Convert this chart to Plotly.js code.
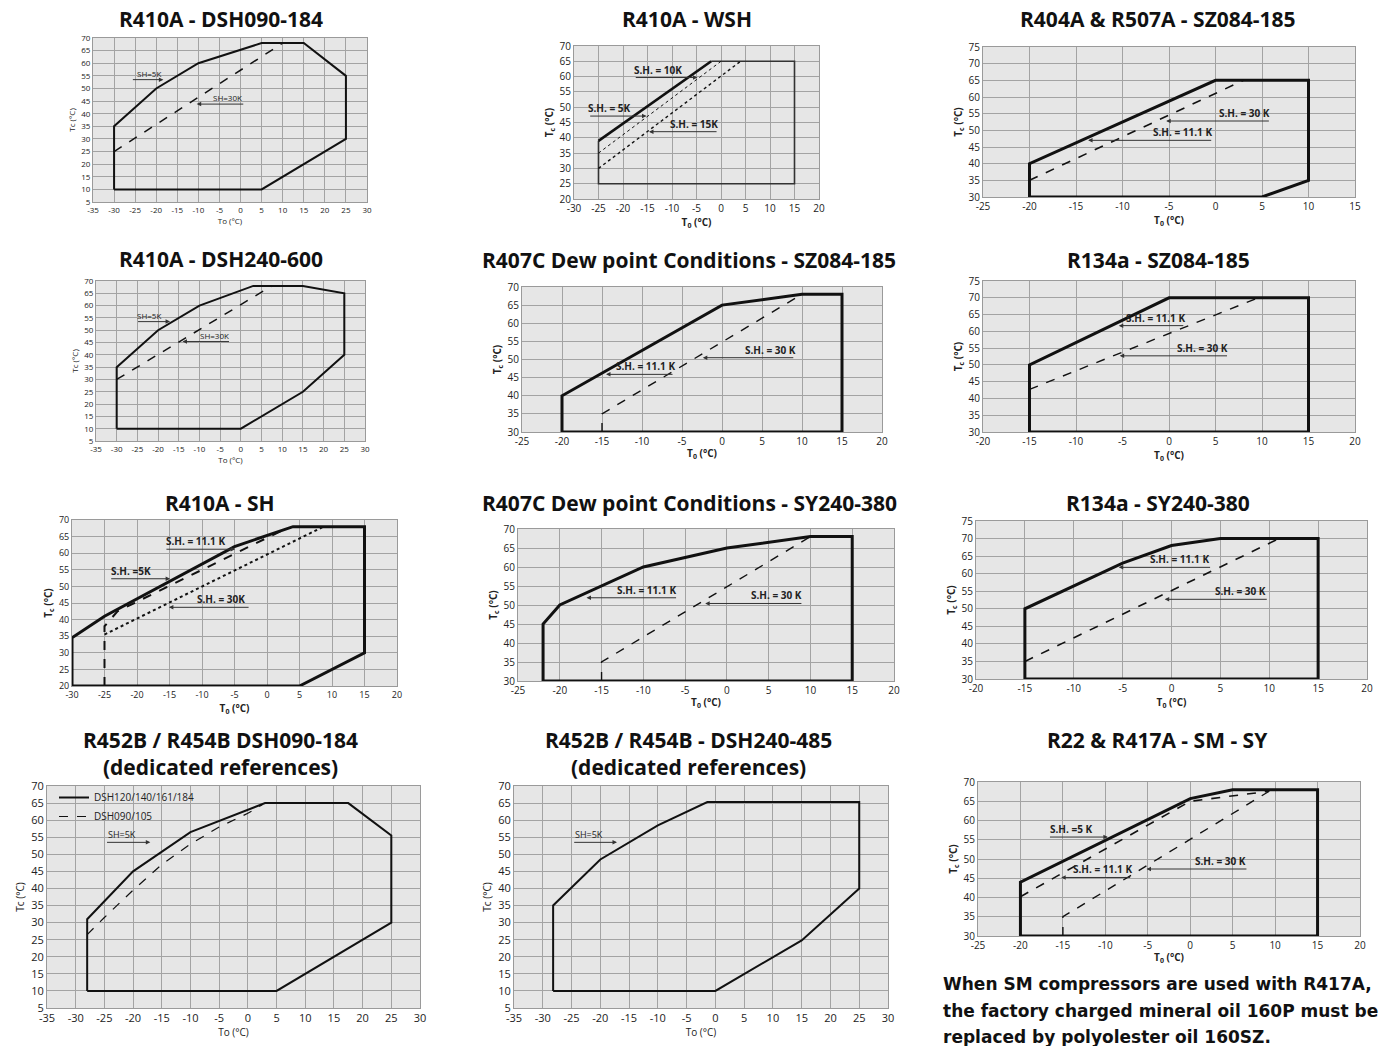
<!DOCTYPE html>
<html><head><meta charset="utf-8">
<script src="https://cdn.plot.ly/plotly-3.0.1.min.js"></script>
<style>html,body{margin:0;padding:0;background:#fff;}#c{width:1388px;height:1046px;}</style>
</head><body><div id="c"></div>
<script>
// ---------- DATA ----------
// Panel 1: R410A - DSH090-184
const p1_env_x = [-30,-30,-20,-10,5,15,25,25,5,-30];
const p1_env_y = [10,35,50,60,68,68,55,30,10,10];
const p1_sh30_x = [-30,10];
const p1_sh30_y = [25,68];
// Panel 2: R410A - WSH
const p2_sh5_x = [-25,-2];
const p2_sh5_y = [39,65];
const p2_env_x = [-2,15,15,-25,-25];
const p2_env_y = [65,65,25,25,39];
const p2_sh10_x = [-25,0];
const p2_sh10_y = [35,65];
const p2_sh15_x = [-25,4];
const p2_sh15_y = [30,65];
// Panel 3: R404A & R507A - SZ084-185
const p3_env_x = [-20,-20,0,10,10,5,-20];
const p3_env_y = [30,40,65,65,35,30,30];
const p3_sh30_x = [-20,3];
const p3_sh30_y = [35,65];
// Panel 4: R410A - DSH240-600
const p4_env_x = [-30,-30,-20,-10,3,15,25,25,15,0,-30];
const p4_env_y = [10,35,50,60,68,68,65,40,25,10,10];
const p4_sh30_x = [-30,7.5];
const p4_sh30_y = [30,68];
// Panel 5: R407C Dew point - SZ084-185
const p5_env_x = [-20,-20,0,10,15,15,-20];
const p5_env_y = [30,40,65,68,68,30,30];
const p5_sh30_x = [-15,-15,10];
const p5_sh30_y = [30,35,68];
// Panel 6: R134a - SZ084-185
const p6_env_x = [-15,-15,0,15,15,-15];
const p6_env_y = [30,50,70,70,30,30];
const p6_sh30_x = [-15,9.6];
const p6_sh30_y = [42.7,70];
// Panel 7: R410A - SH
const p7_env_x = [-30,-30,-25,-5,4,15,15,5,-30];
const p7_env_y = [20,34.5,41,62,68,68,30,20,20];
const p7_sh11_x = [-25,-25,-23,3];
const p7_sh11_y = [20,38,42.5,67.5];
const p7_sh30_x = [-25,8.7];
const p7_sh30_y = [35.5,68];
// Panel 8: R407C Dew point - SY240-380
const p8_env_x = [-22,-22,-20,-10,0,10,15,15,-22];
const p8_env_y = [30,45,50,60,65,68,68,30,30];
const p8_sh30_x = [-15,-15,10];
const p8_sh30_y = [30,35,68];
// Panel 9: R134a - SY240-380
const p9_env_x = [-15,-15,-5,0,5,15,15,-15];
const p9_env_y = [30,50,63,68,70,70,30,30];
const p9_sh30_x = [-15,11];
const p9_sh30_y = [35,70];
// Panel 10: R452B / R454B DSH090-184
const p10_env_x = [-28,-28,-20,-10,3,17.5,25,25,5,-28];
const p10_env_y = [10,31,45,56.5,65,65,55.5,30,10,10];
const p10_dsh090_x = [-28,-25,-20,-15,-10,-5,0,2.5];
const p10_dsh090_y = [26.5,31.5,39.5,47,53,58,62,64.5];
// Panel 11: R452B / R454B - DSH240-485
const p11_env_x = [-28.2,-28.2,-20,-10,-1.4,25,25,15,0,-28.2];
const p11_env_y = [10,35,48.5,58.5,65.3,65.3,40,24.8,10,10];
// Panel 12: R22 & R417A - SM - SY
const p12_env_x = [-20,-20,0,5,15,15,-20];
const p12_env_y = [30,44,65.7,68,68,30,30];
const p12_sh11_x = [-20,0,9.3];
const p12_sh11_y = [40.2,65,67.6];
const p12_sh30_x = [-15,-15,9.3];
const p12_sh30_y = [30,35,67.6];

const titles = ["R410A - DSH090-184","R410A - WSH","R404A &amp; R507A - SZ084-185",
  "R410A - DSH240-600","R407C Dew point Conditions - SZ084-185","R134a - SZ084-185",
  "R410A - SH","R407C Dew point Conditions - SY240-380","R134a - SY240-380",
  "R452B / R454B DSH090-184<br>(dedicated references)","R452B / R454B - DSH240-485<br>(dedicated references)",
  "R22 &amp; R417A - SM - SY"];
const noteLines = ["When SM compressors are used with R417A,",
  "the factory charged mineral oil 160P must be",
  "replaced by polyolester oil 160SZ."];

// ---------- LAYOUT ----------
const W = 1388, H = 1046;
// plot boxes in px: [left, right, top, bottom]
const boxes = [null,
  [93,367,38,202],[574,819,46,199],[983,1355,47,197],
  [96,365,281,441],[522,882,287,432],[983,1355,281,432],
  [72,397,520,686],[518,894,529,681],[976,1367,521,679],
  [47,420,786,1008],[514,888,786,1008],[978,1360,782,936]];
const titlePos = [null,[221,19],[687,19],[1158,19],[221,259],[689,260],[1158,260],
  [220,503],[689,503],[1158,503],[220,753],[688,753],[1157,740]];
const ax = [null,
  {xr:[-35,30],yr:[5,70],fs:8,small:true},
  {xr:[-30,20],yr:[20,70],fs:10},
  {xr:[-25,15],yr:[30,75],fs:10},
  {xr:[-35,30],yr:[5,70],fs:8,small:true},
  {xr:[-25,20],yr:[30,70],fs:10},
  {xr:[-20,20],yr:[30,75],fs:10},
  {xr:[-30,20],yr:[20,70],fs:9},
  {xr:[-25,20],yr:[30,70],fs:10},
  {xr:[-20,20],yr:[30,75],fs:10},
  {xr:[-35,30],yr:[5,70],fs:11,small:true,mid:true},
  {xr:[-35,30],yr:[5,70],fs:11,small:true,mid:true},
  {xr:[-25,20],yr:[30,70],fs:10}];

function ticks(r){ const v=[], t=[]; for(let k=r[0]; k<=r[1]; k+=5){ v.push(k); t.push(String(k)); } return {v, t}; }

const layout = {
  width: W, height: H, margin:{l:0,r:0,t:0,b:0},
  paper_bgcolor:'#fff', plot_bgcolor:'#e6e6e6',
  showlegend: true,
  legend:{x:54/W, y:1-783/H, xanchor:'left', yanchor:'top', bgcolor:'rgba(0,0,0,0)',
    font:{family:'Open Sans, sans-serif', size:10, color:'#222'}, tracegroupgap:0, itemwidth:30},
  font:{family:'Open Sans, sans-serif', color:'#222'},
  annotations: [], shapes: []
};
const id = i => (i===1 ? '' : String(i));

for (let i=1;i<=12;i++){
  const b = boxes[i], a = ax[i];
  const tx = ticks(a.xr), ty = ticks(a.yr);
  const common = {gridcolor:'#a3a3a3', gridwidth:1, showline:true, mirror:true, linecolor:'#9a9a9a', linewidth:1,
     zeroline:false, ticks:'', fixedrange:true, tickmode:'array',
     tickfont:{family:'Open Sans, sans-serif', size:a.fs, color:'#222'}};
  let xt, yt;
  if (a.small){ xt = 'To (°C)'; yt = 'Tc (°C)'; }
  else { xt = '<b>T<sub>0</sub> (°C)</b>'; yt = '<b>T<sub>c</sub> (°C)</b>'; }
  const tfs = a.mid ? 10 : (a.small ? 8 : 10);
  layout['xaxis'+id(i)] = Object.assign({}, common, {domain:[b[0]/W, b[1]/W], range:a.xr, anchor:'y'+id(i),
     tickvals:tx.v, ticktext:tx.t, title:{text:xt, font:{size:tfs, color:'#222'}, standoff:2}});
  layout['yaxis'+id(i)] = Object.assign({}, common, {domain:[1-b[3]/H, 1-b[2]/H], range:a.yr, anchor:'x'+id(i),
     tickvals:ty.v, ticktext:ty.t, title:{text:yt, font:{size:tfs, color:'#222'}, standoff:4}});
  const tp = titlePos[i];
  layout.annotations.push({text:'<b>'+titles[i-1]+'</b>', xref:'paper', yref:'paper', x:tp[0]/W, y:1-tp[1]/H,
    xanchor:'center', yanchor:'middle', showarrow:false,
    font:{family:'Open Sans, sans-serif', size:21, color:'#111'}});
}
noteLines.forEach((t,k)=>{
  layout.annotations.push({text:'<b>'+t+'</b>', xref:'paper', yref:'paper', x:941/W, y:1-(984+k*26.5)/H,
    xanchor:'left', yanchor:'middle', align:'left', showarrow:false,
    font:{family:'DejaVu Sans, sans-serif', size:17, color:'#111'}});
});

// ---------- traces ----------
const data = [];
function line(i, x, y, w, dash, color, name, legend){
  data.push({type:'scatter', mode:'lines', x:x, y:y, xaxis:'x'+id(i), yaxis:'y'+id(i),
    line:{color:color||'#111', width:w, dash:dash||'solid'}, name:name||'', showlegend:!!legend,
    hoverinfo:'skip'});
}
line(1,p1_env_x,p1_env_y,2);
line(1,p1_sh30_x,p1_sh30_y,1.5,'dash');
line(2,p2_env_x,p2_env_y,1.6,'solid','#333');
line(2,p2_sh5_x,p2_sh5_y,2.6);
line(2,p2_sh10_x,p2_sh10_y,1,'dot');
line(2,p2_sh15_x,p2_sh15_y,1.4,'dot');
line(3,p3_env_x,p3_env_y,3);
line(3,p3_sh30_x,p3_sh30_y,1.6,'dash');
line(4,p4_env_x,p4_env_y,2);
line(4,p4_sh30_x,p4_sh30_y,1.5,'dash');
line(5,p5_env_x,p5_env_y,3);
line(5,p5_sh30_x,p5_sh30_y,1.4,'dash');
line(6,p6_env_x,p6_env_y,3);
line(6,p6_sh30_x,p6_sh30_y,1.4,'dash');
line(7,p7_env_x,p7_env_y,3);
line(7,p7_sh11_x,p7_sh11_y,2,'dash');
line(7,p7_sh30_x,p7_sh30_y,2,'dot');
line(8,p8_env_x,p8_env_y,3);
line(8,p8_sh30_x,p8_sh30_y,1.4,'dash');
line(9,p9_env_x,p9_env_y,3);
line(9,p9_sh30_x,p9_sh30_y,1.6,'dash');
line(10,p10_env_x,p10_env_y,2,'solid','#111','DSH120/140/161/184',true);
line(10,p10_dsh090_x,p10_dsh090_y,1.2,'dash','#111','DSH090/105',true);
line(11,p11_env_x,p11_env_y,2);
line(12,p12_env_x,p12_env_y,3);
line(12,p12_sh11_x,p12_sh11_y,1.6,'dash');
line(12,p12_sh30_x,p12_sh30_y,1.4,'dash');

// ---------- labels with arrows: [panel, text, textCenterX, lineY, tailX, tipX, bold, size]
const labels = [
  [1,'SH=5K',-21.8,53.5,-25.9,-18.3,false,8],
  [1,'SH=30K',-3,43.8,1.0,-10.4,false,8],
  [2,'S.H. = 5K',-22.8,47.1,-27,-15.2,true,10],
  [2,'S.H. = 10K',-12.9,59.7,-17.7,-4.8,true,10],
  [2,'S.H. = 15K',-5.6,42,-0.6,-14.7,true,10],
  [3,'S.H. = 30 K',3.1,52.8,5.9,-5.3,true,10],
  [3,'S.H. = 11.1 K',-3.6,47,-0.3,-13.7,true,10],
  [4,'SH=5K',-22.2,53.5,-25.2,-17.1,false,8],
  [4,'SH=30K',-6.4,45.4,-2.5,-14.1,false,8],
  [5,'S.H. = 11.1 K',-9.6,45.9,-6.0,-14.5,true,10],
  [5,'S.H. = 30 K',6.1,50.5,9.1,-2.4,true,10],
  [6,'S.H. = 11.1 K',-1.5,61.7,1.7,-5.4,true,10],
  [6,'S.H. = 30 K',3.6,52.7,6.4,-5.3,true,10],
  [7,'S.H. = 11.1 K',-11,61.2,-15.7,-4.9,true,10],
  [7,'S.H. =5K',-21,52.3,-24.2,-14.9,true,10],
  [7,'S.H. = 30K',-7.1,43.7,-2.6,-15.1,true,10],
  [8,'S.H. = 11.1 K',-9.6,51.9,-5.9,-16.8,true,10],
  [8,'S.H. = 30 K',5.9,50.4,9.1,-2.6,true,10],
  [9,'S.H. = 11.1 K',0.8,61.8,4.1,-5.4,true,10],
  [9,'S.H. = 30 K',7.1,52.7,9.9,-0.7,true,10],
  [10,'SH=5K',-22,53.5,-24.8,-17,false,9],
  [11,'SH=5K',-21.9,53.5,-24.8,-17.1,false,9],
  [12,'S.H. =5 K',-14,55.7,-16.7,-9.7,true,10],
  [12,'S.H. = 11.1 K',-10.3,45.2,-6.9,-15.2,true,10],
  [12,'S.H. = 30 K',3.6,47.4,6.8,-5.15,true,10]
];
labels.forEach(l=>{
  const [i,t,cx,y,tail,tip,bold,sz] = l;
  const xr = 'x'+id(i), yr = 'y'+id(i);
  layout.annotations.push({xref:xr, yref:yr, x:tip, y:y, ax:tail, ay:y, axref:xr, ayref:yr,
    text:'', showarrow:true, arrowhead:2, arrowsize:0.9, arrowwidth:1, arrowcolor:'#333', standoff:0, startstandoff:0});
  layout.annotations.push({xref:xr, yref:yr, x:cx, y:y, text: bold?('<b>'+t+'</b>'):t, showarrow:false,
    xanchor:'center', yanchor:'bottom', yshift:-1,
    font:{family:'Open Sans, sans-serif', size:sz, color:'#222'}});
});

Plotly.newPlot('c', data, layout, {staticPlot:true, displayModeBar:false});
</script>
</body></html>
